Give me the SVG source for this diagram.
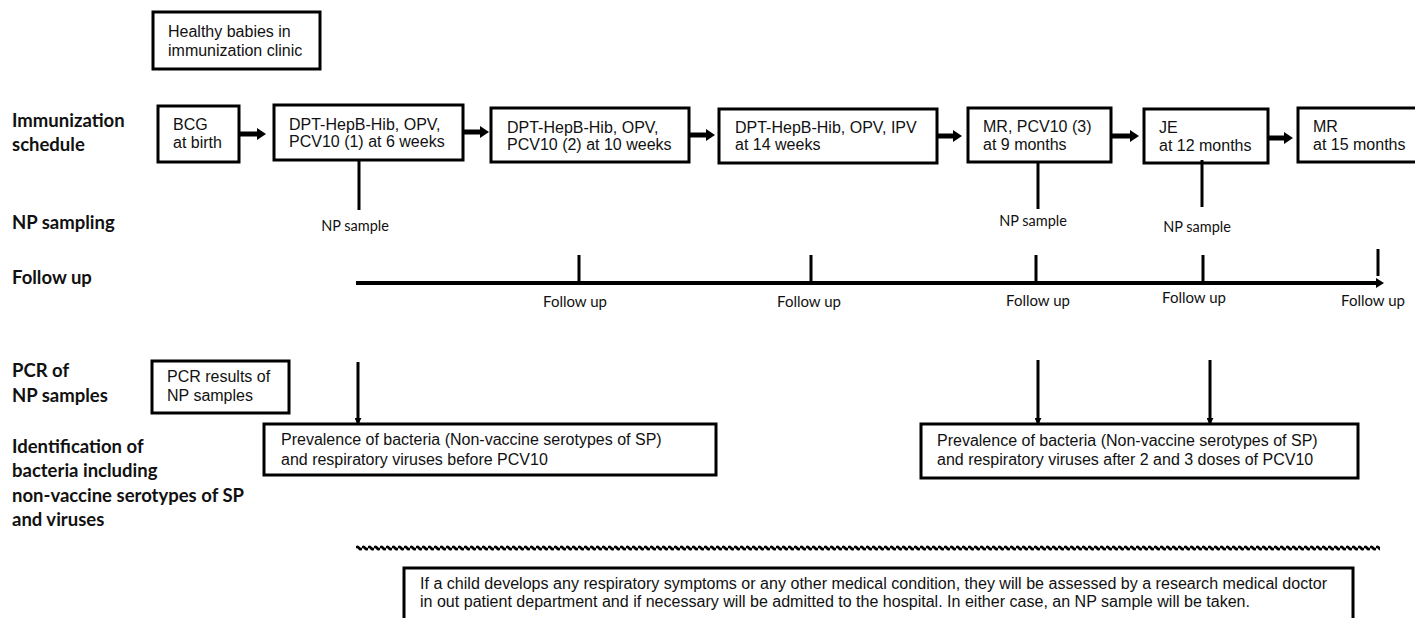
<svg xmlns="http://www.w3.org/2000/svg" width="1415" height="618" viewBox="0 0 1415 618">
<style>
.box{fill:#fff;stroke:#000;stroke-width:3}
.bt{font-family:"Liberation Sans",Arial,sans-serif;font-size:16px;fill:#111}
.lab{font-family:Lato,"Open Sans",sans-serif;font-weight:bold;font-size:18.5px;fill:#111}
.np{font-family:Lato,"Open Sans",sans-serif;font-size:14.5px;fill:#111}
.fu{font-family:Lato,"Open Sans",sans-serif;font-size:15px;fill:#111}
.ln{stroke:#000;stroke-width:3;fill:none}
.fat{stroke:#000;stroke-width:5;fill:none}
</style>
<defs>
<marker id="big" viewBox="0 0 9 12" refX="0" refY="6" markerWidth="9" markerHeight="12" markerUnits="userSpaceOnUse" orient="auto">
<path d="M0,0 L9,6 L0,12 z" fill="#000"/>
</marker>
<marker id="small" viewBox="0 0 8 8" refX="7" refY="4" markerWidth="7" markerHeight="7" markerUnits="userSpaceOnUse" orient="auto">
<path d="M0,0 L8,4 L0,8 z" fill="#000"/>
</marker>
<marker id="tl" viewBox="0 0 8 10" refX="2" refY="5" markerWidth="8" markerHeight="10" markerUnits="userSpaceOnUse" orient="auto">
<path d="M0,0 L8,5 L0,10 z" fill="#000"/>
</marker>
<pattern id="wave" x="356" y="544" width="6" height="8" patternUnits="userSpaceOnUse">
<path d="M0,4 Q1.5,1.5 3,4 T6,4" stroke="#000" stroke-width="2.6" fill="none"/>
</pattern>
</defs>
<rect width="1415" height="618" fill="#fff"/>

<g id="row-labels">
<text class="lab" x="12" y="127">Immunization</text>
<text class="lab" x="12" y="151">schedule</text>
<text class="lab" x="12" y="229">NP sampling</text>
<text class="lab" x="12" y="284">Follow up</text>
<text class="lab" x="12" y="377">PCR of</text>
<text class="lab" x="12" y="402">NP samples</text>
<text class="lab" x="12" y="453">Identification of</text>
<text class="lab" x="12" y="477">bacteria including</text>
<text class="lab" x="12" y="502">non-vaccine serotypes of SP</text>
<text class="lab" x="12" y="526">and viruses</text>
</g>

<g id="healthy">
<rect class="box" x="153" y="12" width="167" height="57"/>
<text class="bt" x="168" y="37">Healthy babies in</text>
<text class="bt" x="168" y="56">immunization clinic</text>
</g>

<g id="bcg">
<rect class="box" x="158" y="106" width="81" height="56"/>
<text class="bt" x="173" y="130">BCG</text>
<text class="bt" x="173" y="148">at birth</text>
</g>

<g id="dpt1">
<rect class="box" x="274" y="105" width="189" height="55"/>
<text class="bt" x="289" y="130">DPT-HepB-Hib, OPV,</text>
<text class="bt" x="289" y="147">PCV10 (1) at 6 weeks</text>
</g>

<g id="dpt2">
<rect class="box" x="491" y="108" width="198" height="54"/>
<text class="bt" x="507" y="133">DPT-HepB-Hib, OPV,</text>
<text class="bt" x="507" y="150">PCV10 (2) at 10 weeks</text>
</g>

<g id="dpt3">
<rect class="box" x="719" y="109" width="218" height="54"/>
<text class="bt" x="735" y="133">DPT-HepB-Hib, OPV, IPV</text>
<text class="bt" x="735" y="150">at 14 weeks</text>
</g>

<g id="mr9">
<rect class="box" x="968" y="108" width="143" height="54"/>
<text class="bt" x="983" y="132">MR, PCV10 (3)</text>
<text class="bt" x="983" y="150">at 9 months</text>
</g>

<g id="je">
<rect class="box" x="1144" y="109" width="124" height="54"/>
<text class="bt" x="1159" y="133">JE</text>
<text class="bt" x="1159" y="151">at 12 months</text>
</g>

<g id="mr15">
<rect class="box" x="1298" y="108" width="122" height="54"/>
<text class="bt" x="1313" y="132">MR</text>
<text class="bt" x="1313" y="150">at 15 months</text>
</g>

<g id="np-labels">
<text class="np" x="355" y="231" text-anchor="middle">NP sample</text>
<text class="np" x="1033" y="226" text-anchor="middle">NP sample</text>
<text class="np" x="1197" y="232" text-anchor="middle">NP sample</text>
</g>

<g id="followup-labels">
<text class="fu" x="575" y="307" text-anchor="middle">Follow up</text>
<text class="fu" x="809" y="307" text-anchor="middle">Follow up</text>
<text class="fu" x="1038" y="306" text-anchor="middle">Follow up</text>
<text class="fu" x="1194" y="303" text-anchor="middle">Follow up</text>
<text class="fu" x="1373" y="306" text-anchor="middle">Follow up</text>
</g>

<g id="pcr">
<rect class="box" x="152" y="361" width="137" height="52"/>
<text class="bt" x="167" y="382">PCR results of</text>
<text class="bt" x="167" y="401">NP samples</text>
</g>

<g id="prev-before">
<rect class="box" x="264" y="424" width="452" height="51"/>
<text class="bt" x="281" y="445">Prevalence of bacteria (Non-vaccine serotypes of SP)</text>
<text class="bt" x="281" y="465">and respiratory viruses before PCV10</text>
</g>

<g id="prev-after">
<rect class="box" x="921" y="424" width="437" height="54"/>
<text class="bt" x="937" y="446">Prevalence of bacteria (Non-vaccine serotypes of SP)</text>
<text class="bt" x="937" y="465">and respiratory viruses after 2 and 3 doses of PCV10</text>
</g>

<g id="note">
<rect class="box" x="404" y="568" width="949" height="70"/>
<text class="bt" x="420" y="589" font-size="14" textLength="907" lengthAdjust="spacingAndGlyphs">If a child develops any respiratory symptoms or any other medical condition, they will be assessed by a research medical doctor</text>
<text class="bt" x="420" y="607" font-size="14" textLength="830" lengthAdjust="spacingAndGlyphs">in out patient department and if necessary will be admitted to the hospital. In either case, an NP sample will be taken.</text>
</g>

<g id="connectors">
<line class="fat" x1="240" y1="134" x2="257" y2="134" marker-end="url(#big)"/>
<line class="fat" x1="464" y1="132" x2="480" y2="132" marker-end="url(#big)"/>
<line class="fat" x1="690" y1="135" x2="706" y2="135" marker-end="url(#big)"/>
<line class="fat" x1="938" y1="136" x2="953" y2="136" marker-end="url(#big)"/>
<line class="fat" x1="1112" y1="136" x2="1130" y2="136" marker-end="url(#big)"/>
<line class="fat" x1="1269" y1="138" x2="1284" y2="138" marker-end="url(#big)"/>

<line class="ln" x1="359" y1="161" x2="359" y2="210"/>
<line class="ln" x1="1038" y1="162" x2="1038" y2="209"/>
<line class="ln" x1="1202" y1="160" x2="1202" y2="207"/>

<line stroke="#000" stroke-width="4" x1="356" y1="283" x2="1378" y2="283" marker-end="url(#tl)"/>
<line class="ln" x1="579" y1="255" x2="579" y2="283"/>
<line class="ln" x1="811" y1="255" x2="811" y2="283"/>
<line class="ln" x1="1036" y1="255" x2="1036" y2="283"/>
<line class="ln" x1="1203" y1="255" x2="1203" y2="283"/>
<line class="ln" x1="1378" y1="249" x2="1378" y2="276"/>

<line class="ln" x1="358" y1="362" x2="358" y2="424" marker-end="url(#small)"/>
<line class="ln" x1="1038" y1="360" x2="1038" y2="424" marker-end="url(#small)"/>
<line class="ln" x1="1210" y1="360" x2="1210" y2="424" marker-end="url(#small)"/>

<rect x="356" y="544" width="1024" height="8" fill="url(#wave)"/>
</g>
</svg>
